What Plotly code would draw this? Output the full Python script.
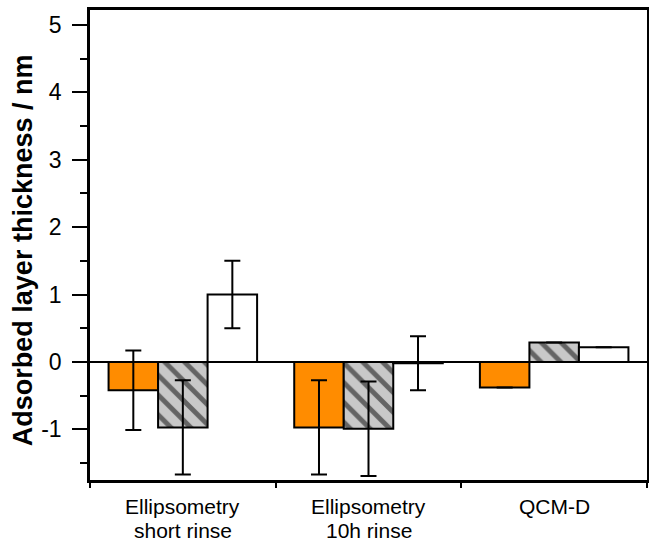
import plotly.graph_objects as go

categories = ["Ellipsometry short rinse", "Ellipsometry 10h rinse", "QCM-D"]
label_line1 = ["Ellipsometry", "Ellipsometry", "QCM-D"]
label_line2 = ["short rinse", "10h rinse", ""]
orange_vals = [-0.42, -0.97, -0.38]
orange_err = [0.59, 0.70, 0.0]
hatch_vals = [-0.97, -0.99, 0.29]
hatch_err = [0.70, 0.70, 0.0]
white_vals = [1.0, -0.02, 0.22]
white_err = [0.5, 0.40, 0.0]

y_ticks = [-1, 0, 1, 2, 3, 4, 5]
y_ticktext = ["-1", "0", "1", "2", "3", "4", "5"]
y_title = "Adsorbed layer thickness / nm"

line = dict(color="black", width=2)
err_style = dict(type="data", visible=True, color="black", thickness=2, width=8)

fig = go.Figure()
fig.add_trace(go.Bar(x=categories, y=orange_vals,
                     marker=dict(color="#ff8c00", line=line),
                     error_y=dict(array=orange_err, **err_style)))
fig.add_trace(go.Bar(x=categories, y=hatch_vals,
                     marker=dict(color="#c8c8c8", line=line,
                                 pattern=dict(shape="\\", fgcolor="black", bgcolor="#c8c8c8",
                                              size=14, solidity=0.35, fillmode="overlay")),
                     error_y=dict(array=hatch_err, **err_style)))
fig.add_trace(go.Bar(x=categories, y=white_vals,
                     marker=dict(color="white", line=line),
                     error_y=dict(array=white_err, **err_style)))

fig.update_layout(
    width=649, height=543,
    margin=dict(l=90, r=2, t=10, b=63),
    paper_bgcolor="white", plot_bgcolor="white",
    barmode="group", bargap=0.2, bargroupgap=0,
    showlegend=False,
    font=dict(family="Liberation Sans, Arial", color="black"),
)
fig.update_xaxes(
    range=[-0.5, 2.5], showline=True, linecolor="black", linewidth=2.5, mirror=True,
    ticks="", showticklabels=False, showgrid=False, automargin=False,
)
fig.update_yaxes(
    range=[-1.75, 5.22], tickvals=y_ticks, ticktext=y_ticktext, showline=True,
    linecolor="black", linewidth=2.5,
    mirror=True, ticks="outside", ticklen=15, tickwidth=2, tickcolor="black",
    minor=dict(dtick=0.5, ticks="outside", ticklen=7, tickwidth=2, tickcolor="black"),
    tickfont=dict(size=23), showgrid=False, ticklabelstandoff=6,
    zeroline=True, zerolinecolor="black", zerolinewidth=2, automargin=False,
)
fig.add_annotation(text="<b>" + y_title + "</b>", textangle=-90, xref="paper", yref="paper",
                   x=(23 - 90) / 557, y=0.489, xanchor="center", yanchor="middle",
                   showarrow=False, font=dict(size=27))
# two-line category labels below the axis
for cat, l1, l2 in zip(categories, label_line1, label_line2):
    fig.add_annotation(text=l1, x=cat, xref="x", yref="paper", y=(480 - 506) / 470,
                       xanchor="center", yanchor="middle", showarrow=False, font=dict(size=21))
    if l2:
        fig.add_annotation(text=l2, x=cat, xref="x", yref="paper", y=(480 - 530) / 470,
                           xanchor="center", yanchor="middle", showarrow=False,
                           font=dict(size=21))
# category boundary ticks on the x axis
fig.add_trace(go.Scatter(x=[-0.5, 0.5, 1.5, 2.5], y=[0, 0, 0, 0], mode="markers",
                         marker=dict(size=0.1, color="rgba(0,0,0,0)"), hoverinfo="skip",
                         showlegend=False))
fig.update_layout(xaxis2=dict(overlaying="x", range=[-0.5, 2.5], tickvals=[-0.5, 0.5, 1.5, 2.5],
                              ticks="outside", ticklen=7, tickwidth=2, tickcolor="black",
                              showticklabels=False, side="bottom", showline=False,
                              showgrid=False, zeroline=False, automargin=False))
fig.data[-1].xaxis = "x2"
fig.write_html("out.html")
